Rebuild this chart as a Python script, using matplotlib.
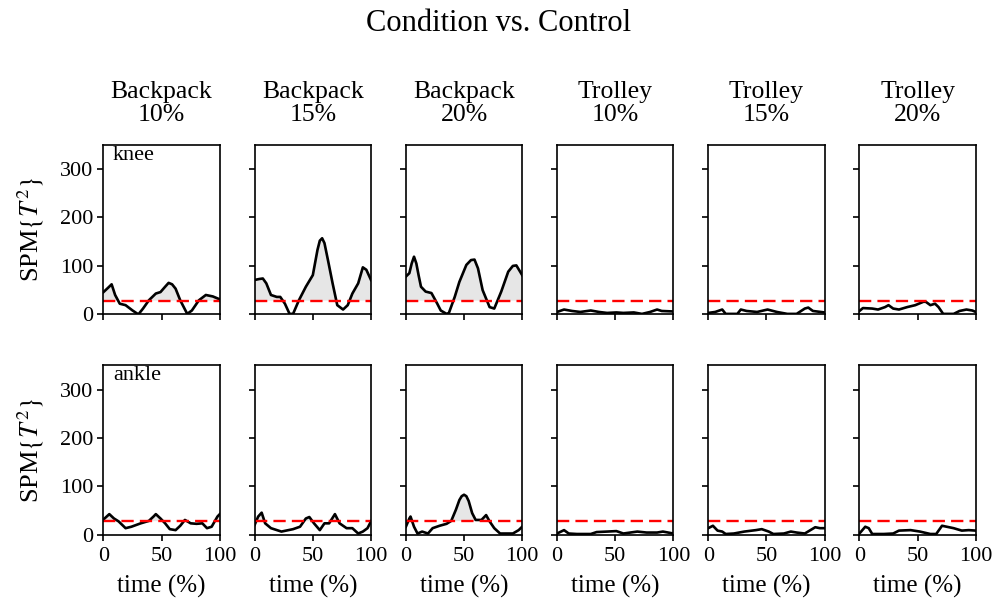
import matplotlib
matplotlib.use("Agg")
import matplotlib.pyplot as plt
import numpy as np

plt.rcParams['font.family'] = ['Liberation Serif', 'DejaVu Serif']
plt.rcParams['mathtext.fontset'] = 'stix'
plt.rcParams['axes.linewidth'] = 1.2

conditions = ["Backpack\n10%", "Backpack\n15%", "Backpack\n20%",
              "Trolley\n10%", "Trolley\n15%", "Trolley\n20%"]
joints = ["knee", "ankle"]
threshold = 28.5

# knee (top row): time (%) and SPM{T^2} values
knee_bp10_t = [0, 4, 7, 10, 14, 19, 25, 30, 34, 39, 45, 49, 53, 56, 59, 62, 66, 72, 76, 82, 88, 94, 100]
knee_bp10 = [46, 55, 62, 40, 22, 19, 8, 0, 12, 29, 43, 46, 57, 65, 62, 53, 29, 1, 8, 29, 40, 37, 31]
knee_bp15_t = [0, 4, 7, 10, 14, 19, 22, 26, 30, 33, 38, 44, 50, 54, 56, 58, 60, 63, 67, 71, 76, 80, 84, 89, 93, 96, 100]
knee_bp15 = [71, 73, 74, 64, 40, 36, 36, 22, 1, 1, 29, 57, 81, 133, 152, 157, 147, 112, 64, 19, 10, 19, 43, 64, 97, 92, 71]
knee_bp20_t = [0, 3, 5, 7, 9, 11, 13, 17, 22, 27, 30, 35, 37, 42, 46, 52, 56, 59, 62, 66, 72, 76, 82, 88, 92, 95, 100]
knee_bp20 = [78, 85, 105, 119, 105, 80, 57, 47, 44, 22, 8, 1, 3, 36, 67, 102, 112, 113, 95, 50, 15, 12, 47, 88, 100, 101, 81]
knee_tr10_t = [0, 6, 13, 20, 29, 36, 43, 51, 57, 66, 73, 80, 86, 90, 100]
knee_tr10 = [5, 10, 7, 5, 8, 5, 3, 4, 3, 4, 1, 5, 10, 7, 6]
knee_tr15_t = [0, 6, 12, 15, 25, 28, 33, 42, 51, 59, 68, 76, 83, 86, 90, 100]
knee_tr15 = [3, 5, 10, 1, 1, 10, 7, 5, 10, 5, 1, 1, 12, 14, 7, 4]
knee_tr20_t = [0, 3, 11, 16, 22, 25, 29, 34, 41, 48, 55, 57, 61, 65, 68, 72, 81, 86, 92, 97, 100]
knee_tr20 = [7, 13, 12, 10, 15, 19, 12, 10, 15, 19, 26, 26, 19, 22, 15, 1, 1, 7, 10, 8, 5]

# ankle (bottom row)
ankle_bp10_t = [0, 5, 9, 13, 19, 24, 32, 39, 43, 45, 49, 53, 57, 62, 66, 70, 75, 80, 85, 89, 93, 98, 100]
ankle_bp10 = [32, 43, 34, 28, 14, 17, 24, 29, 38, 43, 34, 24, 12, 10, 19, 31, 24, 23, 24, 14, 17, 38, 43]
ankle_bp15_t = [0, 3, 6, 9, 14, 23, 33, 39, 44, 47, 51, 56, 60, 64, 69, 73, 79, 84, 89, 93, 97, 100]
ankle_bp15 = [21, 38, 46, 24, 14, 7, 12, 17, 34, 37, 24, 10, 24, 24, 43, 24, 14, 14, 3, 7, 14, 28]
ankle_bp20_t = [0, 3, 4, 7, 10, 14, 19, 23, 29, 35, 39, 43, 46, 48, 50, 52, 54, 57, 60, 65, 69, 72, 76, 81, 86, 92, 97, 100]
ankle_bp20 = [17, 34, 38, 17, 3, 7, 3, 14, 19, 23, 29, 52, 72, 80, 83, 80, 70, 45, 31, 31, 41, 28, 14, 3, 3, 3, 10, 17]
ankle_tr10_t = [0, 6, 10, 17, 29, 34, 43, 51, 57, 69, 77, 86, 91, 100]
ankle_tr10 = [3, 10, 3, 2, 2, 6, 7, 8, 3, 7, 5, 5, 7, 3]
ankle_tr15_t = [0, 4, 8, 12, 15, 22, 31, 41, 46, 52, 56, 65, 71, 76, 83, 92, 96, 100]
ankle_tr15 = [14, 19, 9, 7, 2, 3, 7, 10, 12, 7, 2, 3, 7, 5, 3, 16, 14, 14]
ankle_tr20_t = [0, 5, 8, 11, 21, 29, 34, 44, 52, 61, 66, 71, 75, 81, 88, 94, 100]
ankle_tr20 = [3, 17, 14, 2, 2, 3, 9, 10, 7, 2, 2, 19, 17, 14, 9, 10, 9]

series = [
    [(knee_bp10_t, knee_bp10), (knee_bp15_t, knee_bp15), (knee_bp20_t, knee_bp20),
     (knee_tr10_t, knee_tr10), (knee_tr15_t, knee_tr15), (knee_tr20_t, knee_tr20)],
    [(ankle_bp10_t, ankle_bp10), (ankle_bp15_t, ankle_bp15), (ankle_bp20_t, ankle_bp20),
     (ankle_tr10_t, ankle_tr10), (ankle_tr15_t, ankle_tr15), (ankle_tr20_t, ankle_tr20)],
]

fig, axes = plt.subplots(2, 6, figsize=(9.98, 6.1), dpi=100)
fig.subplots_adjust(left=0.1037, right=0.9777, top=0.7628, bottom=0.123,
                    wspace=0.3, hspace=0.3)

for i in range(2):
    for j in range(6):
        ax = axes[i, j]
        t, v = series[i][j]
        t = np.array(t, dtype=float)
        v = np.array(v, dtype=float)
        ax.fill_between(t, threshold, v, where=v > threshold, interpolate=True,
                        color='0.9', lw=0)
        ax.axhline(0, color='0.6', ls='--', lw=0.6)
        ax.plot(t, v, color='k', lw=1.9, solid_joinstyle='round')
        ax.axhline(threshold, color='r', ls='--', lw=1.7, dashes=(5.2, 2.6))
        ax.set_xlim(0, 100)
        ax.set_ylim(0, 350)
        ax.set_xticks([0, 50, 100])
        ax.set_yticks([0, 100, 200, 300])
        ax.tick_params(labelsize=16, width=1.2, length=4)
        ax.tick_params(axis='x', pad=5)
        if j > 0:
            ax.set_yticklabels([])
        else:
            ax.set_ylabel(r'SPM$\{T^2\}$', fontsize=19, labelpad=10)
            ax.text(0.08, 0.995, joints[i], transform=ax.transAxes,
                    fontsize=16, va='top', ha='left')
        if i == 0:
            ax.set_xticklabels([])
            ax.set_title(conditions[j], fontsize=18.5, pad=17, linespacing=1.05)
        else:
            ax.set_xlabel('time (%)', fontsize=18, labelpad=6)

fig.suptitle('Condition vs. Control', fontsize=22, y=0.985)

fig.savefig('out.png', dpi=100)
